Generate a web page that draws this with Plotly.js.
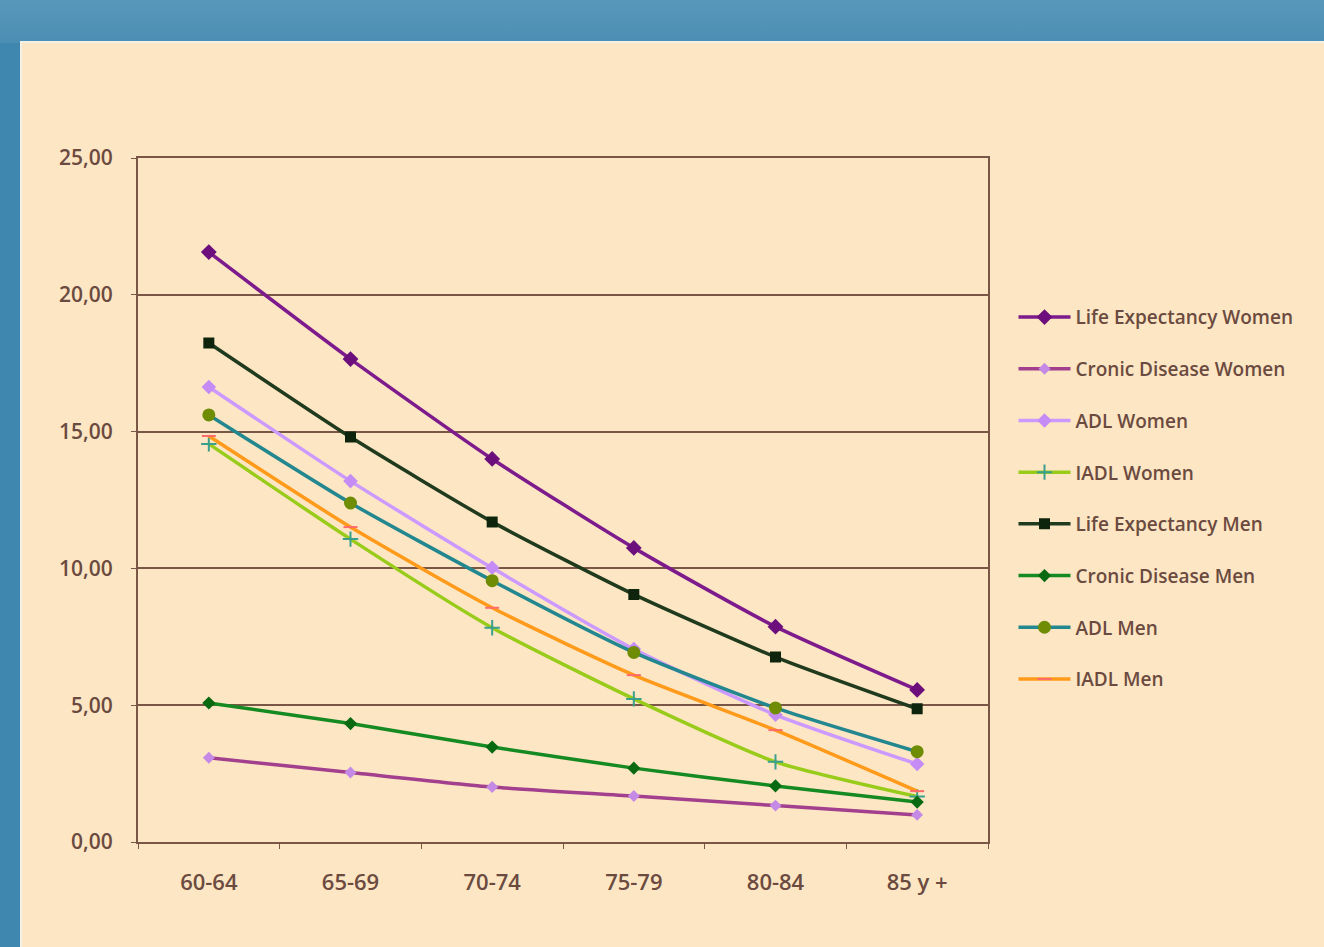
<!DOCTYPE html>
<html>
<head>
<meta charset="utf-8">
<script src="https://cdn.plot.ly/plotly-3.0.1.min.js"></script>
<style>
  html, body { margin: 0; padding: 0; width: 1324px; height: 947px; overflow: hidden; }
  body { background: linear-gradient(to bottom, #5797ba 0px, #4c8fb4 43px, #3f87ae 43px); position: relative; }
  #frame { position: absolute; left: 20px; top: 41px; width: 1304px; height: 906px; background: #f3f0e6; }
  #chart { position: absolute; left: 2px; top: 2px; width: 1302px; height: 904px; }
</style>
</head>
<body>
<div id="frame"><div id="chart"></div></div>
<script>
// Age groups on the x axis
const ageGroups = ["60-64", "65-69", "70-74", "75-79", "80-84", "85 y +"];

// Remaining years per age group
const lifeExpWomen     = [21.56, 17.65, 14.00, 10.75, 7.87, 5.56];
const chronicWomen     = [3.08, 2.54, 2.01, 1.68, 1.33, 0.99];
const adlWomen         = [16.63, 13.19, 10.02, 7.05, 4.65, 2.85];
const iadlWomen        = [14.55, 11.07, 7.83, 5.23, 2.93, 1.66];
const lifeExpMen       = [18.24, 14.80, 11.70, 9.05, 6.76, 4.87];
const chronicMen       = [5.08, 4.33, 3.47, 2.70, 2.05, 1.46];
const adlMen           = [15.61, 12.39, 9.55, 6.93, 4.90, 3.30];
const iadlMen          = [14.84, 11.51, 8.56, 6.10, 4.09, 1.86];

const seriesNames = [
  "Life Expectancy Women", "Cronic Disease Women", "ADL Women", "IADL Women",
  "Life Expectancy Men", "Cronic Disease Men", "ADL Men", "IADL Men"
];

const seriesData = [lifeExpWomen, chronicWomen, adlWomen, iadlWomen,
                    lifeExpMen, chronicMen, adlMen, iadlMen];

const styles = [
  { line: "#7d1b8c", marker: "#6c0f7c", symbol: "diamond", size: 10 },
  { line: "#a2408e", marker: "#c58ae6", symbol: "diamond", size: 7 },
  { line: "#cc99ff", marker: "#c58cf5", symbol: "diamond", size: 9 },
  { line: "#99cc1a", marker: "#3a9f8c", symbol: "cross-thin-open", size: 11 },
  { line: "#1f3a1c", marker: "#0e240c", symbol: "square", size: 9 },
  { line: "#168a22", marker: "#0a6a12", symbol: "diamond", size: 8 },
  { line: "#23878f", marker: "#6f8c05", symbol: "circle", size: 11 },
  { line: "#ff9a1a", marker: "#ff6b6b", symbol: "line-ew-open", size: 10 }
];

const traces = seriesNames.map((name, i) => ({
  type: "scatter",
  mode: "lines+markers",
  name: name,
  x: ageGroups,
  y: seriesData[i],
  legendgroup: "g" + i,
  line: { color: styles[i].line, width: 3.5, shape: "spline", smoothing: 0.6 },
  marker: {
    color: styles[i].marker,
    symbol: styles[i].symbol,
    size: styles[i].size,
    line: { color: styles[i].marker, width: 2 }
  }
}));

const axisColor = "#7a5646";
const textColor = "#6b4a40";
const fontFamily = "'Open Sans', Lato, sans-serif";

const layout = {
  width: 1302,
  height: 904,
  paper_bgcolor: "#fde6c4",
  plot_bgcolor: "#fde6c4",
  separators: ",.",
  margin: { l: 116, r: 336, t: 115, b: 105 },
  font: { family: fontFamily, size: 18, color: textColor, weight: 600 },
  showlegend: true,
  legend: {
    x: 1.03, xanchor: "left",
    y: 0.795, yanchor: "top",
    bgcolor: "rgba(0,0,0,0)",
    tracegroupgap: 24,
    itemwidth: 52,
    font: { family: fontFamily, size: 19, color: textColor, weight: 600 }
  },
  xaxis: {
    type: "category",
    range: [-0.5, 5.5],
    showline: true, linecolor: axisColor, linewidth: 2, mirror: true,
    ticks: "outside", tickson: "boundaries", ticklen: 5, tickcolor: axisColor,
    ticklabelstandoff: 20,
    showgrid: false, zeroline: false,
    tickfont: { family: fontFamily, size: 22, color: textColor, weight: 600 }
  },
  yaxis: {
    range: [0, 25],
    dtick: 5, tick0: 0,
    tickformat: ".2f",
    showline: true, linecolor: axisColor, linewidth: 2, mirror: true,
    ticks: "outside", ticklen: 5, tickcolor: axisColor,
    ticklabelstandoff: 14,
    showgrid: true, gridcolor: axisColor, gridwidth: 2,
    zeroline: false,
    tickfont: { family: fontFamily, size: 21, color: textColor, weight: 600 }
  }
};

Plotly.newPlot("chart", traces, layout, { displayModeBar: false, staticPlot: true });
</script>
</body>
</html>
